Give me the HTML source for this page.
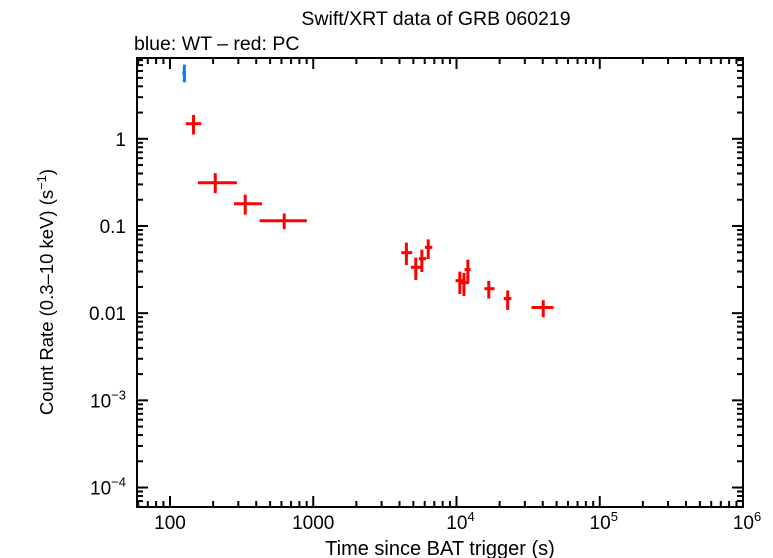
<!DOCTYPE html>
<html><head><meta charset="utf-8"><style>
body{margin:0;background:#fff;}
svg{display:block;font-family:"Liberation Sans",sans-serif;}
</style></head><body>
<svg id="chart" width="773" height="558" xmlns="http://www.w3.org/2000/svg">
<text x="436" y="25" font-size="19.5" text-anchor="middle">Swift/XRT data of GRB 060219</text>
<text x="134" y="50" font-size="19.5">blue: WT – red: PC</text>
<text x="440" y="555" font-size="20" text-anchor="middle">Time since BAT trigger (s)</text>
<text transform="translate(53,292) rotate(-90)" font-size="18.5" text-anchor="middle">Count Rate (0.3–10 keV) (s<tspan font-size="13" dy="-7">−1</tspan><tspan dy="7">)</tspan></text>
<g id="ticks"></g><g id="marks"></g>
<rect x="137" y="58" width="606" height="449" fill="none" stroke="#000" stroke-width="2"/>
</svg>
<script>
const wtTime=[126], wtTimeLo=[122], wtTimeHi=[129], wtRate=[5.7], wtRateLo=[4.45], wtRateHi=[7.1];
const pcTime=[146,207,335,627,4470,5200,5730,6350,10550,11270,12000,16800,22760,40330];
const pcTimeLo=[129,157,280,422,4120,4800,5460,6020,9840,10370,11380,15660,21350,33390];
const pcTimeHi=[165,293,438,902,4910,5680,6160,6780,11200,12200,12530,18430,24170,47480];
const pcRate=[1.49,0.313,0.180,0.115,0.0494,0.0336,0.0422,0.0569,0.0236,0.0224,0.0316,0.0191,0.0147,0.0116];
const pcRateLo=[1.12,0.238,0.135,0.092,0.0357,0.0240,0.0296,0.0418,0.0166,0.0157,0.0222,0.0147,0.0109,0.0090];
const pcRateHi=[1.88,0.404,0.229,0.139,0.0644,0.0434,0.0535,0.0703,0.0300,0.0289,0.0411,0.0234,0.0182,0.0141];
const xTickExp=[2,3,4,5,6], xTickLabels=["100","1000","10^4","10^5","10^6"];
const yTickExp=[0,-1,-2,-3,-4], yTickLabels=["1","0.1","0.01","10^−3","10^−4"];

const X0=137,X1=743,Y0=58,Y1=507;
const xmax=6, xmin=2-33/143.3;
const ymax=Math.log10(8.45), ymin=-4-19.5/87.3;
const sx=v=>X0+(Math.log10(v)-xmin)/(xmax-xmin)*(X1-X0);
const sy=v=>Y0+(ymax-Math.log10(v))/(ymax-ymin)*(Y1-Y0);
const NS="http://www.w3.org/2000/svg";
const tg=document.getElementById('ticks'), mg=document.getElementById('marks');
function line(g,x1,y1,x2,y2,c,w){const l=document.createElementNS(NS,'line');l.setAttribute('x1',x1);l.setAttribute('y1',y1);l.setAttribute('x2',x2);l.setAttribute('y2',y2);l.setAttribute('stroke',c);l.setAttribute('stroke-width',w);g.appendChild(l);return l;}
function label(txt,x,y,anchor){
  const t=document.createElementNS(NS,'text');t.setAttribute('x',x);t.setAttribute('y',y);t.setAttribute('font-size','19');t.setAttribute('text-anchor',anchor);
  const p=txt.split('^');t.appendChild(document.createTextNode(p[0]));
  if(p[1]){const s=document.createElementNS(NS,'tspan');s.setAttribute('font-size','13');s.setAttribute('dy','-8');s.textContent=p[1];t.appendChild(s);}
  tg.appendChild(t);return t;}
for(let e=1;e<=6;e++)for(let m=1;m<10;m++){const v=m*Math.pow(10,e);const lv=Math.log10(v);if(lv<xmin||lv>xmax+1e-9)continue;
  const x=sx(v),L=m===1?11:6;
  const a=line(tg,x,Y1,x,Y1-L,'#000',2);
  
  
  const b=line(tg,x,Y0,x,Y0+L,'#000',2);
  
  }
xTickExp.forEach((e,i)=>{const t=label(xTickLabels[i],sx(Math.pow(10,e))+(xTickLabels[i].includes('^')?4:0),529,'middle');
  
  });
for(let e=-5;e<=1;e++)for(let m=1;m<10;m++){const v=m*Math.pow(10,e);const lv=Math.log10(v);if(lv<ymin||lv>ymax)continue;
  const y=sy(v),L=m===1?11:6;
  const a=line(tg,X0,y,X0+L,y,'#000',2);
  
  
  const b=line(tg,X1,y,X1-L,y,'#000',2);
  
  }
yTickExp.forEach((e,i)=>{const t=label(yTickLabels[i],126,sy(Math.pow(10,e))+7,'end');
  
  });
function pts(T,TL,TH,R,RL,RH,c,name){for(let i=0;i<T.length;i++){
  const h=line(mg,sx(TL[i]),sy(R[i]),sx(TH[i]),sy(R[i]),c,3);
  
  
  const v=line(mg,sx(T[i]),sy(RH[i]),sx(T[i]),sy(RL[i]),c,3);
  
  }}
pts(wtTime,wtTimeLo,wtTimeHi,wtRate,wtRateLo,wtRateHi,'#0a7cf0','wt-point');
pts(pcTime,pcTimeLo,pcTimeHi,pcRate,pcRateLo,pcRateHi,'#ff0000','pc-point');
</script>
</body></html>
